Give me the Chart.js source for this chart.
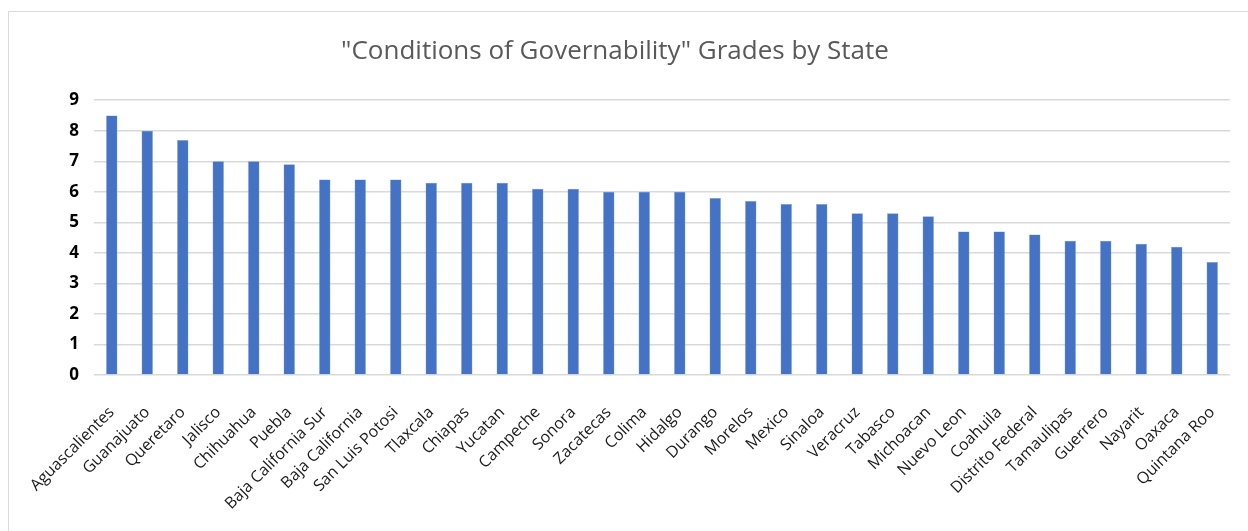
<!DOCTYPE html>
<html>
<head>
<meta charset="utf-8">
<script src="https://cdn.jsdelivr.net/npm/chart.js@4"></script>
<style>
  html, body { margin: 0; padding: 0; background: #fff; }
  #wrap { position: relative; width: 1248px; height: 531px; overflow: hidden; }
  #frame { position: absolute; left: 8px; top: 11px; width: 1260px; height: 540px;
           border: 1.5px solid #d9d9d9; box-sizing: border-box; }
  canvas { position: absolute; left: 0; top: 0; }
</style>
</head>
<body>
<div id="wrap">
  <div id="frame"></div>
  <canvas id="govChart" width="1248" height="531"></canvas>
</div>
<script>
const states = ['Aguascalientes', 'Guanajuato', 'Queretaro', 'Jalisco', 'Chihuahua', 'Puebla',
  'Baja California Sur', 'Baja California', 'San Luis Potosi', 'Tlaxcala', 'Chiapas', 'Yucatan',
  'Campeche', 'Sonora', 'Zacatecas', 'Colima', 'Hidalgo', 'Durango', 'Morelos', 'Mexico',
  'Sinaloa', 'Veracruz', 'Tabasco', 'Michoacan', 'Nuevo Leon', 'Coahuila', 'Distrito Federal',
  'Tamaulipas', 'Guerrero', 'Nayarit', 'Oaxaca', 'Quintana Roo'];
const grades = [8.5, 8.0, 7.7, 7.0, 7.0, 6.9, 6.4, 6.4, 6.4, 6.3, 6.3, 6.3,
  6.1, 6.1, 6.0, 6.0, 6.0, 5.8, 5.7, 5.6, 5.6, 5.3, 5.3, 5.2,
  4.7, 4.7, 4.6, 4.4, 4.4, 4.3, 4.2, 3.7];
const yTicks = [0, 1, 2, 3, 4, 5, 6, 7, 8, 9];

const chart = new Chart(document.getElementById('govChart'), {
  type: 'bar',
  data: {
    labels: states,
    datasets: [{
      label: 'Grade',
      data: grades,
      backgroundColor: '#4472C4',
      borderColor: '#7f9fd8',
      borderWidth: 0.5,
      barPercentage: 0.32,
      categoryPercentage: 1,
    }],
  },
  options: {
    responsive: false,
    animation: false,
    layout: { padding: { left: 0, right: 18, top: 0, bottom: 0 } },
    plugins: {
      legend: { display: false },
      tooltip: { enabled: false },
      title: {
        display: true,
        text: '"Conditions of Governability" Grades by State',
        color: '#595959',
        font: { family: 'Open Sans', size: 26, weight: 'normal' },
        padding: { top: 36, bottom: 33 },
      },
    },
    scales: {
      x: {
        grid: { display: false },
        border: { display: false },
        ticks: {
          autoSkip: false,
          maxRotation: 45,
          minRotation: 45,
          padding: 20,
          color: '#1a1a1a',
          font: { family: 'Open Sans', size: 16 },
        },
        afterFit: (scale) => { scale.height = 156; },
      },
      y: {
        min: 0,
        max: 9,
        afterBuildTicks: (scale) => { scale.ticks = yTicks.map(v => ({ value: v })); },
        grid: { color: '#d9d9d9', lineWidth: 1.5, drawTicks: false },
        border: { display: false },
        ticks: {
          padding: 15,
          color: '#000',
          font: { family: 'Open Sans', size: 17, weight: 'bold' },
        },
        afterFit: (scale) => { scale.width = 94; },
      },
    },
  },
});
</script>
</body>
</html>
